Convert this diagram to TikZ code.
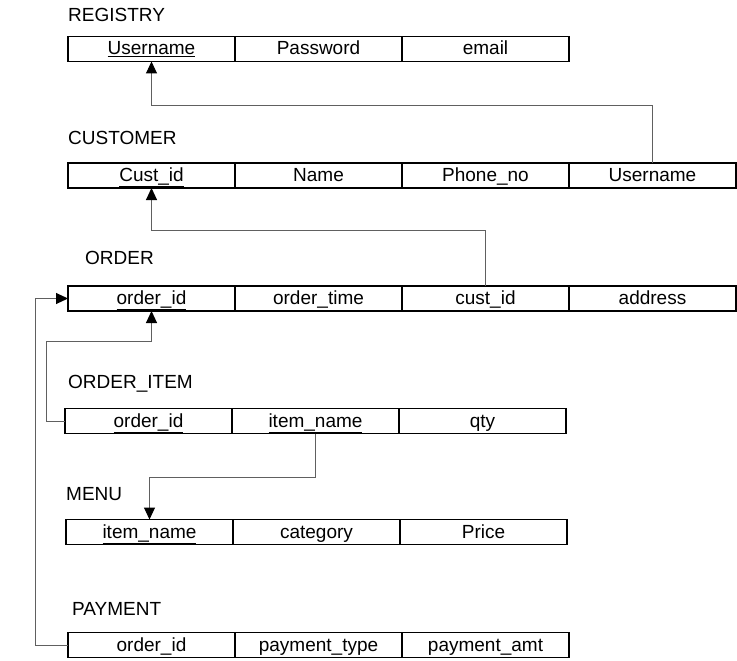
\documentclass[tikz,border=0pt]{standalone}
\usepackage{fontspec}
\setmainfont{Liberation Sans}
\usetikzlibrary{arrows.meta}
\usetikzlibrary{positioning}

\tikzset{
  cell/.style={draw, line width=1.3pt, minimum width=167pt, minimum height=25pt,
    inner sep=0pt, outer sep=0pt, anchor=west, text height=15pt, text depth=3pt},
  tabletitle/.style={anchor=west, inner sep=0pt},
  link/.style={draw=gray!75!black, line width=1pt,
    -{Triangle[black, length=12pt, width=11pt]}}
}

\begin{document}
\begin{tikzpicture}[x=1pt, y=-1pt, font=\fontsize{19}{21}\selectfont]
      \useasboundingbox (0, 0) rectangle (737, 661);

      \node [tabletitle] (registry) at (68, 15) {REGISTRY};
      \foreach \t [count=\i] in {\underline{Username}, Password, email} {
        \node [cell] (reg\i) at (68+167*\i-167, 49) {\t};
      }

      \node [tabletitle] (customer) at (68, 138) {CUSTOMER};
      \foreach \t [count=\i] in {\underline{Cust\_id}, Name, Phone\_no, Username} {
        \node [cell] (cus\i) at (68+167*\i-167, 175.5) {\t};
      }

      \node [tabletitle] (order) at (85, 258) {ORDER};
      \foreach \t [count=\i] in {\underline{order\_id}, order\_time, cust\_id, address} {
        \node [cell] (ord\i) at (68+167*\i-167, 298.5) {\t};
      }

      \node [tabletitle] (orderitem) at (68, 384) {ORDER\_ITEM};
      \foreach \t [count=\i] in {\underline{order\_id}, \underline{item\_name}, qty} {
        \node [cell] (oit\i) at (65+167*\i-167, 421) {\t};
      }

      \node [tabletitle] (menu) at (66, 494) {MENU};
      \foreach \t [count=\i] in {\underline{item\_name}, category, Price} {
        \node [cell] (menu\i) at (66+167*\i-167, 532) {\t};
      }

      \node [tabletitle] (payment) at (72, 609) {PAYMENT};
      \foreach \t [count=\i] in {order\_id, payment\_type, payment\_amt} {
        \node [cell] (pay\i) at (68+167*\i-167, 645) {\t};
      }

      % foreign keys
      \draw [link] (cus4.north) -- ++(0, -57) -| (reg1.south);
      \draw [link] (ord3.north) -- ++(0, -56) -| (cus1.south);
      \draw [link] (oit1.west) -- ++(-19, 0) -- ++(0, -80) -| (ord1.south);
      \draw [link] (oit2.south) -- ++(0, 44) -| (menu1.north);
      \draw [link] (pay1.west) -- ++(-33, 0) |- (ord1.west);
    \end{tikzpicture}
\end{document}
